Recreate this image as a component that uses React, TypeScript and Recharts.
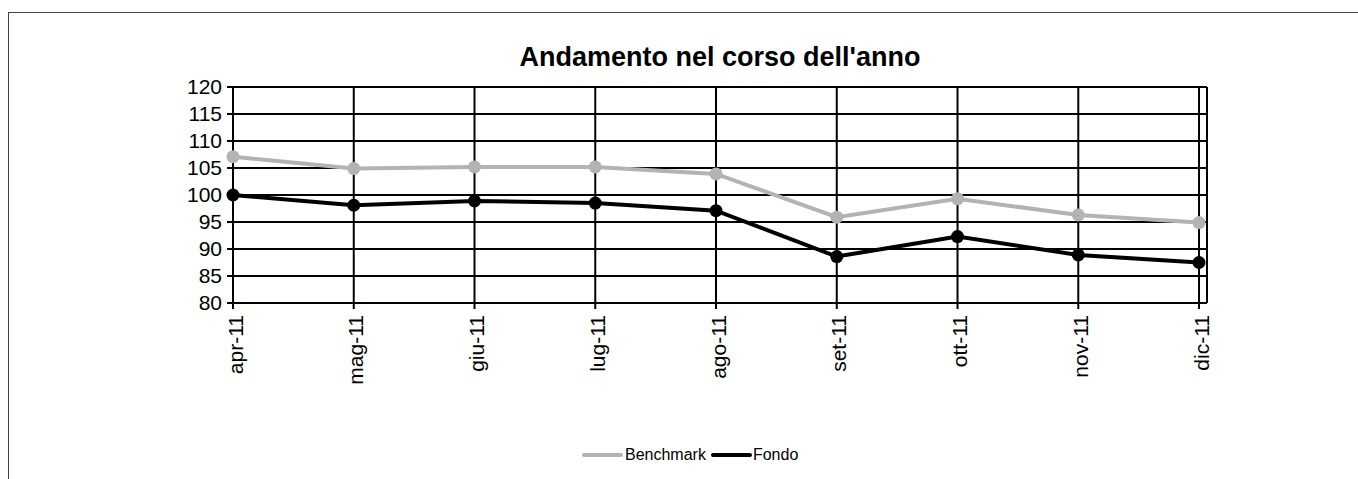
import React from 'react';
import { LineChart, Line, XAxis, YAxis, CartesianGrid, ReferenceLine } from 'recharts';

// Months shown along the x axis
const months = ['apr-11', 'mag-11', 'giu-11', 'lug-11', 'ago-11', 'set-11', 'ott-11', 'nov-11', 'dic-11'];
// Monthly index values of the two series
const benchmark = [107.1, 104.9, 105.2, 105.2, 103.9, 95.9, 99.3, 96.3, 94.9];
const fondo = [100.0, 98.1, 98.9, 98.5, 97.1, 88.6, 92.3, 88.9, 87.5];
// Value axis ticks
const yTicks = [80, 85, 90, 95, 100, 105, 110, 115, 120];

const title = "Andamento nel corso dell'anno";
const FONT = '"Liberation Sans", Arial, sans-serif';
const GREY = '#b3b3b3';

// Category index scale, with a small gap after the last month
const xTicks = months.map((_, i) => i);
const X_MAX = months.length - 1 + 0.066;

const data = months.map((m, i) => ({ x: i, month: m, Benchmark: benchmark[i], Fondo: fondo[i] }));

const MonthTick = (props: any) => {
  const { x, y, payload } = props;
  const ty = y + 4;
  return (
    <text
      x={x + 2}
      y={ty}
      transform={`rotate(-90, ${x + 2}, ${ty})`}
      textAnchor="end"
      dominantBaseline="central"
      fontSize={21}
      fontFamily={FONT}
      fill="#000"
    >
      {months[payload.value]}
    </text>
  );
};

export default function App() {
  return (
    <div
      style={{
        position: 'absolute',
        left: 8,
        top: 12,
        width: 1350,
        height: 467,
        borderLeft: '1px solid #444',
        borderTop: '1px solid #444',
        overflow: 'hidden',
        background: '#fff',
        fontFamily: FONT,
      }}
    >
      <div
        style={{
          position: 'absolute',
          left: 0,
          width: 1422,
          top: 31,
          lineHeight: '27px',
          fontSize: 27,
          fontWeight: 'bold',
          textAlign: 'center',
          color: '#000',
          whiteSpace: 'nowrap',
        }}
      >
        {title}
      </div>
      <LineChart
        width={1349}
        height={466}
        data={data}
        margin={{ top: 74, right: 151, bottom: 0, left: 0 }}
      >
        <CartesianGrid stroke="#000" strokeWidth={2} />
        <XAxis
          dataKey="x"
          type="number"
          domain={[0, X_MAX]}
          ticks={xTicks}
          interval={0}
          height={176}
          tick={<MonthTick />}
          tickSize={6}
          stroke="#000"
          strokeWidth={2}
        />
        <YAxis
          domain={[80, 120]}
          ticks={yTicks}
          interval={0}
          width={224}
          tickSize={6}
          tickMargin={5}
          stroke="#000"
          strokeWidth={2}
          tick={{ fontSize: 21, fontFamily: FONT, fill: '#000' }}
        />
        <ReferenceLine x={X_MAX} stroke="#000" strokeWidth={2} ifOverflow="extendDomain" />
        <Line
          dataKey="Benchmark"
          stroke={GREY}
          strokeWidth={4}
          dot={{ r: 6.5, fill: GREY, stroke: GREY, strokeWidth: 0 }}
          isAnimationActive={false}
        />
        <Line
          dataKey="Fondo"
          stroke="#000"
          strokeWidth={4}
          dot={{ r: 6.5, fill: '#000', stroke: '#000', strokeWidth: 0 }}
          isAnimationActive={false}
        />
      </LineChart>
      <div
        style={{
          position: 'absolute',
          left: 573,
          top: 434,
          display: 'flex',
          alignItems: 'center',
          fontSize: 16,
          lineHeight: '16px',
          color: '#000',
          whiteSpace: 'nowrap',
        }}
      >
        <span style={{ display: 'inline-block', width: 41, height: 4, background: GREY, borderRadius: 2 }} />
        <span style={{ marginLeft: 2 }}>Benchmark</span>
        <span style={{ display: 'inline-block', width: 41, height: 4, background: '#000', borderRadius: 2, marginLeft: 5 }} />
        <span style={{ marginLeft: 1 }}>Fondo</span>
      </div>
    </div>
  );
}
